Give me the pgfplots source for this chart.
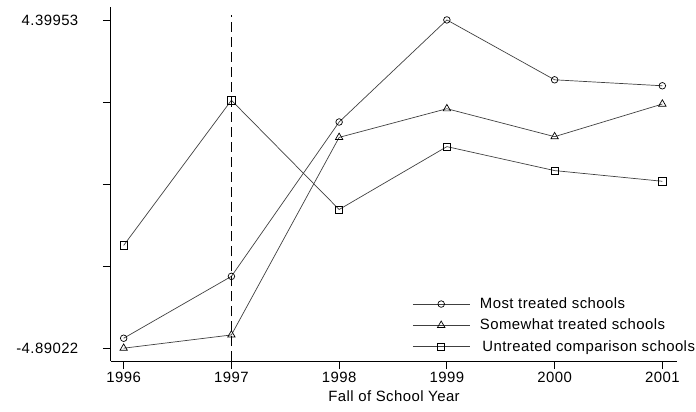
\documentclass[border=0pt]{standalone}
\usepackage{pgfplots}
\pgfplotsset{compat=1.18}
\usepackage{fontspec}
\setmainfont{Liberation Sans}[LetterSpace=3]
\begin{document}
\begin{tikzpicture}[x=1bp,y=1bp]
\path (-111bp,-50bp) rectangle (585bp,362bp);
\begin{axis}[
  at={(0,0)}, anchor=south west,
  scale only axis, width=568bp, height=355bp,
  xmin=1995.88, xmax=2001.14,
  ymin=-5.257, ymax=4.766,
  axis lines=left,
  axis line style={-, line width=0.8bp, black},
  tick align=outside,
  major tick length=8bp,
  tick style={line width=0.8bp, black},
  xtick={1996,1997,1998,1999,2000,2001},
  xticklabels={1996,1997,1998,1999,2000,2001},
  ytick={-4.89022,-2.56778,-0.24534,2.07709,4.39953},
  yticklabels={-4.89022,,,,4.39953},
  yticklabel style={xshift=-21bp},
  xticklabel style={yshift=1bp},
  font=\fontsize{15}{18}\selectfont,
  xlabel={Fall of School Year},
  xlabel style={yshift=-2bp},
  clip=false,
  legend cell align=left,
  legend style={draw=none, fill=none, at={(0.532,0.182)}, anchor=north west,
    row sep=7bp, column sep=9bp, inner sep=0pt,
    nodes={inner sep=1bp}},
  legend image code/.code={
    \draw[#1] (0bp,0bp) -- (57bp,0bp);
    \draw[#1, only marks] plot coordinates {(28.5bp,0bp)};
  },
]
\addplot[black!75, line width=0.7bp, mark=o, mark size=3.3bp, mark options={black, solid, line width=0.7bp}]
  coordinates {(1996,-4.608) (1997,-2.857) (1998,1.511) (1999,4.39953) (2000,2.705) (2001,2.536)};
\addlegendentry{Most treated schools}
\addplot[black!75, line width=0.7bp, mark=triangle, mark size=4.3bp, mark options={black, solid, line width=0.7bp}]
  coordinates {(1996,-4.89022) (1997,-4.515) (1998,1.076) (1999,1.887) (2000,1.096) (2001,2.019)};
\addlegendentry{Somewhat treated schools}
\addplot[black!75, line width=0.7bp, mark=square, mark size=3.6bp, mark options={black, solid, line width=0.7bp}]
  coordinates {(1996,-1.982) (1997,2.126) (1998,-0.965) (1999,0.814) (2000,0.136) (2001,-0.166)};
\addlegendentry{\,Untreated comparison schools}
\addplot[black, line width=0.8bp, dash pattern=on 10bp off 5bp, forget plot]
  coordinates {(1997,-5.257) (1997,4.541)};
\end{axis}
\end{tikzpicture}
\end{document}
